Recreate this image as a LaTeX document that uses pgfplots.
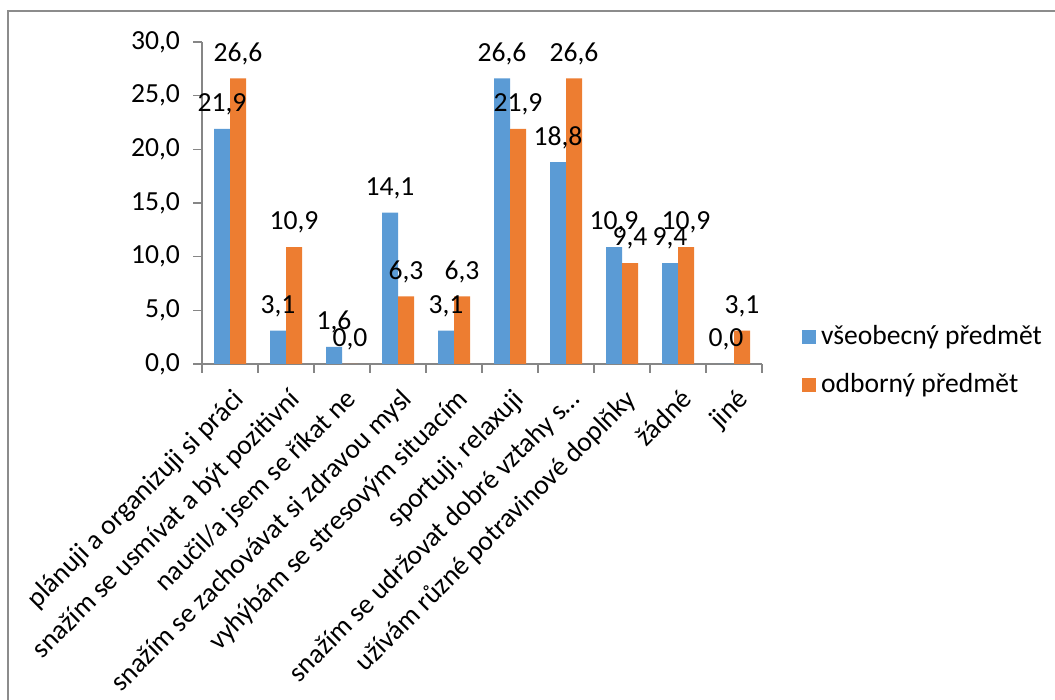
\documentclass[border=0pt]{standalone}
\usepackage{fontspec}
\setmainfont{Carlito}
\usepackage{pgfplots}
\pgfplotsset{compat=1.18}
\definecolor{cblue}{HTML}{5B9BD5}
\definecolor{corange}{HTML}{ED7D31}
\definecolor{axgray}{HTML}{868686}
\definecolor{bordergray}{HTML}{8C8C8C}
\newcommand{\cf}{\fontsize{13.8pt}{16pt}\selectfont}
\begin{document}
\begin{tikzpicture}[x=1pt,y=1pt]
\begin{axis}[
  at={(101pt,168pt)}, anchor=south west,
  width=280pt, height=161pt, scale only axis,
  xmin=-0.5, xmax=9.5, ymin=0, ymax=30,
  ytick={0,5,...,30},
  yticklabel={\pgfmathprintnumber[fixed,fixed zerofill,precision=1,use comma,assume math mode=true]{\tick}},
  xtick={-0.5,0.5,1.5,2.5,3.5,4.5,5.5,6.5,7.5,8.5,9.5},
  x tick label as interval,
  xticklabels={plánuji a organizuji si práci, snažím se usmívat a být pozitivní, naučil/a jsem se říkat ne, snažím se zachovávat si zdravou mysl, vyhýbám se stresovým situacím, {sportuji, relaxuji}, snažím se udržovat dobré vztahy s…, užívám různé potravinové doplňky, žádné, jiné},
  xticklabel style={rotate=45, anchor=north east, font=\cf, inner sep=1pt, xshift=-3.2pt, yshift=-4.5pt},
  yticklabel style={font=\cf, xshift=-3pt},
  axis lines*=left, axis line style={draw=axgray, line width=0.7pt, -},
  tick style={axgray, line width=0.7pt}, tick align=outside, major tick length=4.5pt,
  ybar=0pt, bar width=8pt,
  clip=false,
  nodes near coords={\pgfmathprintnumber[fixed,fixed zerofill,precision=1,use comma,assume math mode=true]{\pgfplotspointmeta}},
  every node near coord/.append style={font=\cf, anchor=base, yshift=8.6pt, text=black, inner sep=0pt},
  legend style={at={(1.06,0.01)}, anchor=west, draw=none, fill=none, font=\cf, row sep=8pt, nodes={inner sep=2.5pt}},
  legend cell align=left,
  legend image code/.code={\fill[#1] (0pt,-3.5pt) rectangle (7pt,3.5pt);},
]
\addplot[fill=cblue, draw=none] coordinates {(0,21.9)(1,3.1)(2,1.6)(3,14.1)(4,3.1)(5,26.6)(6,18.8)(7,10.9)(8,9.4)(9,0.0)};
\addplot[fill=corange, draw=none] coordinates {(0,26.6)(1,10.9)(2,0.0)(3,6.3)(4,6.3)(5,21.9)(6,26.6)(7,9.4)(8,10.9)(9,3.1)};
\legend{všeobecný předmět, odborný předmět}
\end{axis}
\pgfresetboundingbox
\useasboundingbox (0pt,0pt) rectangle (527.5pt,350pt);
\draw[color=bordergray, line width=1pt] (3.75pt,0pt) -- (3.75pt,344.25pt) -- (527.5pt,344.25pt);
\end{tikzpicture}
\end{document}
